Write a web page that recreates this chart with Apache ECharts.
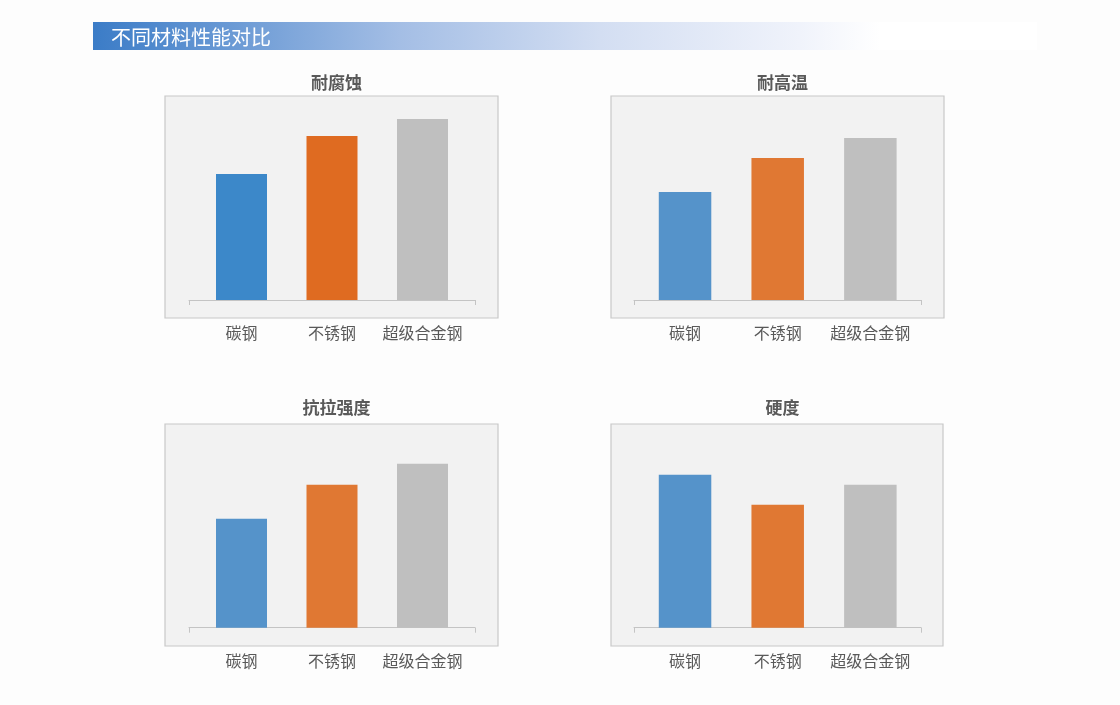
<!DOCTYPE html>
<html><head><meta charset="utf-8">
<script src="https://cdn.jsdelivr.net/npm/echarts@6/dist/echarts.min.js"></script>
<style>html,body{margin:0;padding:0;background:#fdfdfd;}#c{width:1120px;height:705px;}</style>
</head><body><div id="c"></div>
<script>
// ---- data ----
const pageTitle = '不同材料性能对比';
const categories = ['碳钢', '不锈钢', '超级合金钢'];
const chartTitles = ['耐腐蚀', '耐高温', '抗拉强度', '硬度'];
const corrosion = [6.3, 8.2, 9.05];
const heatResistance = [5.4, 7.1, 8.1];
const tensileStrength = [5.45, 7.15, 8.2];
const hardness = [7.65, 6.15, 7.15];
const seriesValues = [corrosion, heatResistance, tensileStrength, hardness];
const valueMax = 10;

// ---- styles / layout ----
const paletteBright = ['#3c88c9', '#df6b21', '#bfbfbf'];
const paletteSoft = ['#5593ca', '#e07833', '#bfbfbf'];
const palettes = [paletteBright, paletteSoft, paletteSoft, paletteSoft];
const FONT = '"Noto Sans CJK SC", "Noto Sans", sans-serif';
const layouts = [
  {cx: 331.5, titleTop: 69, panel: [165, 96, 333, 222], axis: [189, 286], bars: [196.25, 271.5], axisY: 300, barWidth: 51},
  {cx: 777.5, titleTop: 69, panel: [611, 96, 333, 222], axis: [634, 287], bars: [638.7, 278], axisY: 300, barWidth: 52.5},
  {cx: 331.5, titleTop: 394, panel: [165, 424, 333, 222], axis: [189, 286], bars: [196.25, 271.5], axisY: 627.7, barWidth: 51},
  {cx: 777.5, titleTop: 394, panel: [611, 424, 332, 222], axis: [634, 287], bars: [638.7, 278], axisY: 627.7, barWidth: 52.5}
];
const plotHeight = 200;

const grid = [], xAxis = [], yAxis = [], series = [], title = [];
layouts.forEach((L, i) => {
  const p = L.panel;
  // panel box
  grid.push({left: p[0], top: p[1], width: p[2], height: p[3], show: true,
    backgroundColor: '#f2f2f2', borderColor: '#c8c8c8', borderWidth: 1.2});
  xAxis.push({gridIndex: 3 * i, type: 'value', show: false});
  yAxis.push({gridIndex: 3 * i, type: 'value', show: false});
  // axis line
  grid.push({left: L.axis[0], width: L.axis[1], top: L.axisY - plotHeight, height: plotHeight});
  xAxis.push({gridIndex: 3 * i + 1, type: 'value', min: 0, max: 1, interval: 1,
    axisLine: {show: true, lineStyle: {color: '#c4c4c4', width: 1}},
    axisTick: {show: true, length: 5, lineStyle: {color: '#c4c4c4', width: 1}},
    axisLabel: {show: false}, splitLine: {show: false}});
  yAxis.push({gridIndex: 3 * i + 1, type: 'value', show: false});
  // bars
  grid.push({left: L.bars[0], width: L.bars[1], top: L.axisY - plotHeight, height: plotHeight});
  xAxis.push({gridIndex: 3 * i + 2, type: 'category', data: categories,
    axisLine: {show: false}, axisTick: {show: false},
    axisLabel: {color: '#595959', fontSize: 16, margin: 25, interval: 0, fontFamily: FONT}});
  yAxis.push({gridIndex: 3 * i + 2, type: 'value', min: 0, max: valueMax, show: false});
  const pal = palettes[i];
  series.push({type: 'bar', xAxisIndex: 3 * i + 2, yAxisIndex: 3 * i + 2,
    data: seriesValues[i], barWidth: L.barWidth, silent: true,
    itemStyle: {color: (prm) => pal[prm.dataIndex]}});
  title.push({text: chartTitles[i], left: L.cx, top: L.titleTop, textAlign: 'center',
    textStyle: {color: '#595959', fontSize: 17, fontWeight: 'bold', fontFamily: FONT}});
});

const chart = echarts.init(document.getElementById('c'), null, {renderer: 'canvas'});
chart.setOption({
  backgroundColor: '#fdfdfd',
  animation: false,
  title, grid, xAxis, yAxis, series,
  graphic: [
    {type: 'rect', shape: {x: 93, y: 22, width: 944, height: 28}, z: -1,
      style: {fill: {type: 'linear', x: 0, y: 0, x2: 1, y2: 0, colorStops: [
        {offset: 0, color: '#3b7cc7'},
        {offset: 0.325, color: '#a4bee5'},
        {offset: 0.537, color: '#d3def2'},
        {offset: 0.749, color: '#f0f3fb'},
        {offset: 0.834, color: '#ffffff'},
        {offset: 1, color: '#ffffff'}]}}},
    {type: 'text', style: {text: pageTitle, x: 111, y: 37, fill: '#ffffff',
      fontSize: 20, fontFamily: FONT, verticalAlign: 'middle'}}
  ]
});
</script></body></html>
